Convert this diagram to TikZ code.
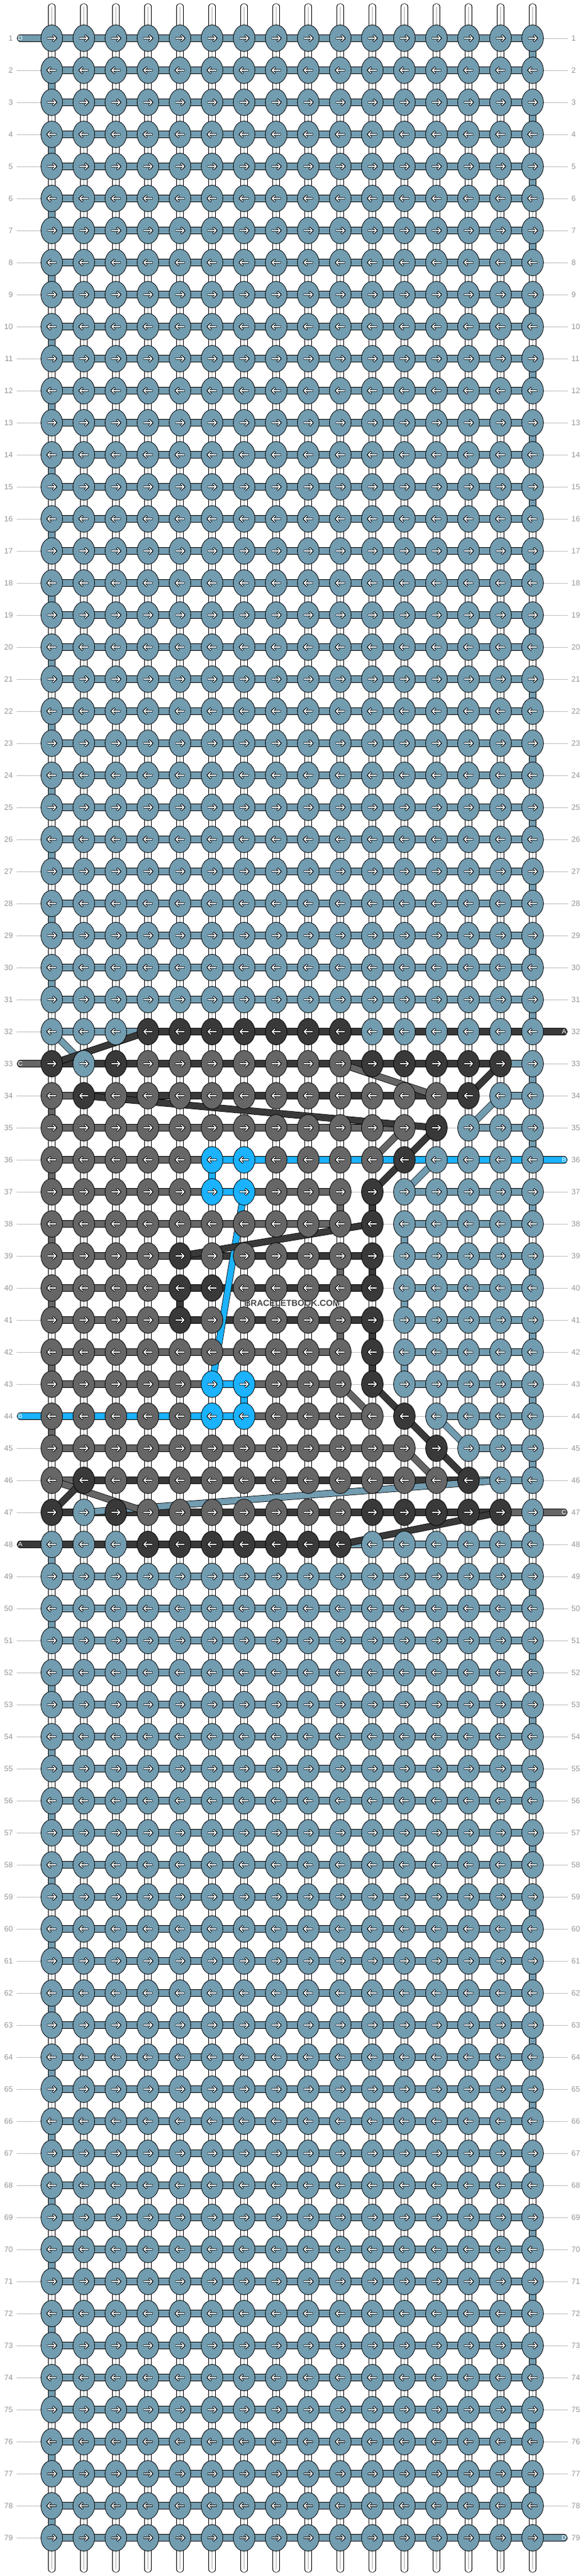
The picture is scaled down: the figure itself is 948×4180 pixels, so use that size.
\documentclass[tikz,border=0pt]{standalone}
\usepackage{fontspec}
\setmainfont{Liberation Sans}
\usetikzlibrary{shapes.geometric}
\definecolor{thA}{RGB}{57,57,57}
\definecolor{thB}{RGB}{27,178,255}
\definecolor{thC}{RGB}{102,102,102}
\definecolor{thD}{RGB}{114,156,176}
\definecolor{rowgray}{RGB}{150,150,150}
\tikzset{
  knot/.style={ellipse, draw=black, line width=0.8pt, fill=#1, minimum width=35pt, minimum height=43pt, inner sep=0pt},
  thread/.style={draw=black, line width=0.8pt, double=#1, double distance=9.6pt},
  rowno/.style={text=rowgray, font=\fontsize{12.5}{14}\selectfont, inner sep=0pt},
  tailtag/.style={text=white, font=\fontsize{10.5}{12}\selectfont, inner sep=0pt},
  rowline/.style={draw=rowgray!60, line width=0.8pt},
  knotdir/.pic={
    \draw[black, line width=3.4pt] (-7.5,0) -- (6.5,0) (1.5,-5) -- (7,0) -- (1.5,5);
    \draw[white, line width=1.6pt] (-7,0) -- (6.5,0) (2,-4.5) -- (6.5,0) -- (2,4.5);
  }
}
\begin{document}
\begin{tikzpicture}[x=1pt, y=-1pt, line join=round]
\useasboundingbox (0,0) rectangle (948,4180);
% grid points
\foreach \r in {1,...,79}{
  \coordinate (l\r) at (27,10+52*\r);
  \coordinate (e\r) at (921,10+52*\r);
  \foreach \c in {1,...,16}
    \coordinate (p\r-\c) at (32+52*\c,10+52*\r);
}
\foreach \c in {1,...,16}{
  \coordinate (top\c) at (32+52*\c,11);
  \coordinate (bot\c) at (32+52*\c,4169);
}
% row lines and numbers
\foreach \r in {1,...,79}{
  \draw[rowline] (l\r) -- (e\r);
  \node[rowno, anchor=east] (nl\r) at (21,10+52*\r) {\r};
  \node[rowno, anchor=west] (nr\r) at (927,10+52*\r) {\r};
}
% white strings
\foreach \c in {1,...,16}{
  \draw[thread=white, line cap=round] (top\c) -- (bot\c);
  \draw[gray!40, line width=1.2pt] (top\c) -- (bot\c);
}
% turns
\foreach \r in {1,3,...,31,49,51,...,77}{
  \pgfmathtruncatemacro\s{\r+1}
  \draw[thread=thD] (p\r-16) -- (p\s-16);
}
\foreach \r in {2,4,...,30,48,50,...,78}{
  \pgfmathtruncatemacro\s{\r+1}
  \draw[thread=thD] (p\r-1) -- (p\s-1);
}
\foreach \c/\r/\k in {16/33/D,16/35/D,16/37/D,12/38/D,16/39/D,12/40/D,16/41/D,12/42/D,16/43/D,16/45/D,16/47/D,
  11/37/A,11/39/A,5/40/A,11/41/A,11/42/A,
  1/34/C,1/36/C,10/37/C,1/38/C,10/39/C,1/40/C,10/41/C,1/42/C,1/44/C,
  6/36/B,7/43/B}{
  \pgfmathtruncatemacro\s{\r+1}
  \draw[thread=th\k] (p\r-\c) -- (p\s-\c);
}
% knotting threads
\foreach \r in {1,...,31,49,50,...,79}
  \draw[thread=thD] (p\r-1) -- (p\r-16);
\foreach \r/\segs in {
  32/{D,D,D,A,A,A,A,A,A,A,A,A,A,A,A},
  33/{A,A,A,A,A,A,A,A,A,A,A,A,A,A,D},
  34/{C,A,A,A,A,A,A,A,A,A,A,A,A,N,D},
  35/{C,C,C,C,C,C,C,C,C,C,C,N,N,D,D},
  36/{C,C,C,C,C,B,B,B,B,B,B,B,B,B,B},
  37/{C,C,C,C,C,B,C,C,C,N,N,D,D,D,D},
  38/{C,C,C,C,C,C,C,C,C,N,N,D,D,D,D},
  39/{C,C,C,C,A,A,A,A,A,A,N,D,D,D,D},
  40/{C,C,C,C,A,A,A,A,A,A,N,D,D,D,D},
  41/{C,C,C,C,A,A,A,A,A,A,N,D,D,D,D},
  42/{C,C,C,C,C,C,C,C,C,N,N,D,D,D,D},
  43/{C,C,C,C,C,B,C,C,C,N,N,D,D,D,D},
  44/{B,B,B,B,B,B,C,C,C,C,N,N,D,D,D},
  45/{C,C,C,C,C,C,C,C,C,C,C,N,N,D,D},
  46/{C,A,A,A,A,A,A,A,A,A,A,A,A,D,D},
  47/{A,A,A,A,A,A,A,A,A,A,A,A,A,A,C},
  48/{A,A,A,A,A,A,A,A,A,D,D,D,D,D,D}}{
  \foreach \k [count=\c] in \segs {
    \pgfmathtruncatemacro\n{\c+1}
    \if\k N\else\draw[thread=th\k] (p\r-\c) -- (p\r-\n);\fi
  }
}
% loose ends
\foreach \r/\k in {1/D,33/C,44/B,48/A}{
  \coordinate (tl\r) at (33,10+52*\r);
  \draw[thread=th\k, line cap=round] (tl\r) -- (p\r-1);
  \node[tailtag] (tagl\r) at (tl\r) {\k};
}
\foreach \r/\k in {32/A,36/B,47/C,79/D}{
  \coordinate (tr\r) at (915,10+52*\r);
  \draw[thread=th\k, line cap=round] (p\r-16) -- (tr\r);
  \node[tailtag] (tagr\r) at (tr\r) {\k};
}
% threads changing place
\foreach \ca/\ra/\cb/\rb/\k in {1/32/2/33/D,15/34/14/35/D,13/36/12/37/D,13/44/14/45/D,15/46/2/47/D,
  10/33/13/34/C,12/35/11/36/C,10/43/11/44/C,12/45/13/46/C,1/46/4/47/C,
  7/37/6/43/B,
  4/32/1/33/A,15/33/14/34/A,2/34/13/35/A,13/35/11/37/A,11/38/5/39/A,11/43/14/46/A,2/46/1/47/A,15/47/10/48/A}
  \draw[thread=th\k] (p\ra-\ca) -- (p\rb-\cb);
% knots
\foreach \r in {1,...,31,49,50,...,79}
  \foreach \c in {1,...,16}
    \node[knot=thD] (k\r-\c) at (p\r-\c) {};
\foreach \r/\cols in {
  32/{D,D,D,A,A,A,A,A,A,A,D,D,D,D,D,D},
  33/{A,D,A,C,C,C,C,C,C,C,A,A,A,A,A,D},
  34/{C,A,C,C,C,C,C,C,C,C,C,C,C,A,D,D},
  35/{C,C,C,C,C,C,C,C,C,C,C,C,A,D,D,D},
  36/{C,C,C,C,C,B,B,C,C,C,C,A,D,D,D,D},
  37/{C,C,C,C,C,B,B,C,C,C,A,D,D,D,D,D},
  38/{C,C,C,C,C,C,C,C,C,C,A,D,D,D,D,D},
  39/{C,C,C,C,A,C,C,C,C,C,A,D,D,D,D,D},
  40/{C,C,C,C,A,A,C,C,C,C,A,D,D,D,D,D},
  41/{C,C,C,C,A,C,C,C,C,C,A,D,D,D,D,D},
  42/{C,C,C,C,C,C,C,C,C,C,A,D,D,D,D,D},
  43/{C,C,C,C,C,B,B,C,C,C,A,D,D,D,D,D},
  44/{C,C,C,C,C,B,B,C,C,C,C,A,D,D,D,D},
  45/{C,C,C,C,C,C,C,C,C,C,C,C,A,D,D,D},
  46/{C,A,C,C,C,C,C,C,C,C,C,C,C,A,D,D},
  47/{A,D,A,C,C,C,C,C,C,C,A,A,A,A,A,D},
  48/{D,D,D,A,A,A,A,A,A,A,D,D,D,D,D,D}}
  \foreach \k [count=\c] in \cols
    \node[knot=th\k] (k\r-\c) at (p\r-\c) {};
% arrows
\foreach \r in {1,...,79}{
  \ifodd\r \def\dir{1}\else\def\dir{-1}\fi
  \foreach \c in {1,...,16}
    \pic[xscale=\dir] at (k\r-\c) {knotdir};
}
\node[font=\bfseries\fontsize{14}{16}\selectfont, text=black!72] (stamp) at (474,2115) {BRACELETBOOK.COM};
\end{tikzpicture}
\end{document}
